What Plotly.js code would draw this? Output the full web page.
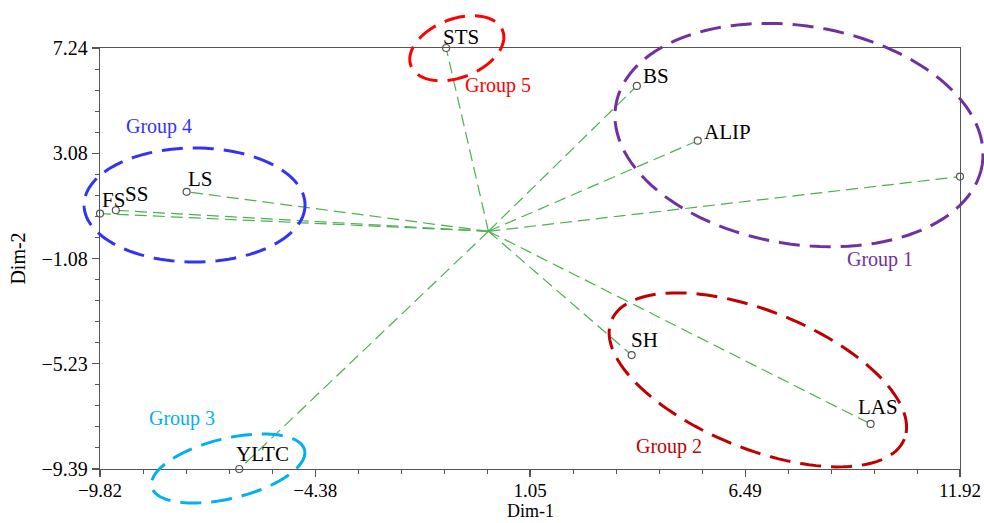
<!DOCTYPE html>
<html>
<head>
<meta charset="utf-8">
<script src="https://cdn.plot.ly/plotly-3.0.1.min.js"></script>
<style>html,body{margin:0;padding:0;background:#fff;}#chart{width:984px;height:523px;}</style>
</head>
<body>
<div id="chart"></div>
<script>
// ---- data ----
const pointLabels = ['STS', 'BS', 'ALIP', '', 'LS', 'SS', 'FS', 'YLTC', 'SH', 'LAS'];
const dim1 = [-1.07, 3.75, 5.29, 11.92, -7.63, -9.42, -9.82, -6.30, 3.62, 9.66];
const dim2 = [7.24, 5.74, 3.58, 2.16, 1.56, 0.83, 0.70, -9.39, -4.89, -7.61];

const groupNames = ['Group 1', 'Group 2', 'Group 3', 'Group 4', 'Group 5'];
const groupCenterX = [7.85, 6.81, -6.58, -7.43, -0.80];
const groupCenterY = [3.80, -5.87, -9.37, 1.04, 7.23];
const groupLabelX = [9.90, 4.56, -7.75, -8.33, 0.23];
const groupLabelY = [-1.13, -8.52, -7.41, 4.12, 5.74];

const xTickVals = [-9.82, -4.38, 1.05, 6.49, 11.92];
const xTickText = ['\u22129.82', '\u22124.38', '1.05', '6.49', '11.92'];
const yTickVals = [7.24, 3.08, -1.08, -5.23, -9.39];
const yTickText = ['7.24', '3.08', '\u22121.08', '\u22125.23', '\u22129.39'];

// ---- styles / geometry (pixels) ----
const groupColors = ['#7030a0', '#c00000', '#00b0f0', '#3333f5', '#ff0000'];
const ellipseA = [185.6, 158, 78.6, 110.5, 49.1];   // semi-major, px
const ellipseB = [109.1, 68.8, 30, 57, 29.3];       // semi-minor, px
const ellipseRot = [9.2, 22, -13.6, 0, -21];        // degrees, screen (clockwise +)
const labelShift = [[-4, 11], [5, 10], [5, 9], [0, 0], [0, 13], [8, 16], [1, 14], [-4, 15], [-2, 15], [-14, 17]];

const W = 984, H = 523;
const M = {l: 100, r: 24, t: 48, b: 54};
const plotW = W - M.l - M.r, plotH = H - M.t - M.b;
const xr = [-9.82, 11.92], yr = [-9.39, 7.24];
const FONT = '"Liberation Serif", "Times New Roman", Times, serif';

const px = x => (x - xr[0]) / (xr[1] - xr[0]);
const py = y => (y - yr[0]) / (yr[1] - yr[0]);

// spokes from origin
const lx = [], ly = [];
for (let i = 0; i < dim1.length; i++) { lx.push(0, dim1[i], null); ly.push(0, dim2[i], null); }

const traces = [
  {x: lx, y: ly, mode: 'lines', type: 'scatter', cliponaxis: false, hoverinfo: 'skip',
   line: {color: '#4caf50', width: 1.2, dash: '12px,6px'}, showlegend: false},
  {x: dim1, y: dim2, mode: 'markers', type: 'scatter', cliponaxis: false, text: pointLabels,
   marker: {size: 7, color: '#ffffff', line: {color: '#555555', width: 1.2}}, showlegend: false}
];

const shapes = groupNames.map((g, k) => {
  const cx = px(groupCenterX[k]), cy = py(groupCenterY[k]);
  const th = ellipseRot[k] * Math.PI / 180;
  let d = '';
  const N = 120;
  for (let j = 0; j <= N; j++) {
    const t = 2 * Math.PI * j / N;
    const ex = ellipseA[k] * Math.cos(t), ey = ellipseB[k] * Math.sin(t);
    const rx = ex * Math.cos(th) - ey * Math.sin(th);
    const ry = ex * Math.sin(th) + ey * Math.cos(th); // screen y down
    const X = cx + rx / plotW, Y = cy - ry / plotH;
    d += (j === 0 ? 'M' : 'L') + X.toFixed(5) + ',' + Y.toFixed(5);
  }
  d += 'Z';
  return {type: 'path', xref: 'paper', yref: 'paper', path: d, layer: 'above',
          line: {color: groupColors[k], width: 3, dash: '21px,10px'}};
});

const annotations = [];
pointLabels.forEach((t, i) => {
  if (!t) return;
  annotations.push({x: dim1[i], y: dim2[i], xref: 'x', yref: 'y', text: t, showarrow: false,
    xanchor: 'left', yanchor: 'middle', xshift: labelShift[i][0], yshift: labelShift[i][1],
    font: {family: FONT, size: 21, color: '#000'}, borderpad: 0});
});
groupNames.forEach((g, k) => {
  annotations.push({x: groupLabelX[k], y: groupLabelY[k], xref: 'x', yref: 'y', text: g, showarrow: false,
    xanchor: 'center', yanchor: 'middle', font: {family: FONT, size: 20, color: groupColors[k]}, borderpad: 0});
});
// x-axis title placed just below the tick labels
annotations.push({x: 0.5, y: 0, xref: 'paper', yref: 'paper', yshift: -42, text: 'Dim-1', showarrow: false,
  xanchor: 'center', yanchor: 'middle', font: {family: FONT, size: 18, color: '#000'}, borderpad: 0});

const axisCommon = {
  showgrid: false, zeroline: false, showline: true, linecolor: '#555', linewidth: 1.3, mirror: true,
  ticks: 'outside', ticklen: 7, tickwidth: 1.2, tickcolor: '#555', tickmode: 'array',
  tickfont: {family: FONT, size: 20, color: '#000'}
};

const layout = {
  width: W, height: H, margin: M, paper_bgcolor: '#fff', plot_bgcolor: '#fff',
  showlegend: false, hovermode: false,
  xaxis: Object.assign({}, axisCommon, {range: xr, tickvals: xTickVals, ticktext: xTickText, automargin: false,
    ticklabelstandoff: -3, tickfont: {family: FONT, size: 19, color: '#000'},
    minor: {tickmode: 'linear', tick0: -9.82, dtick: 1.0874, ticks: 'outside', ticklen: 4, tickcolor: '#555', tickwidth: 1}}),
  yaxis: Object.assign({}, axisCommon, {range: yr, tickvals: yTickVals, ticktext: yTickText,
    minor: {tickmode: 'linear', tick0: -9.39, dtick: 0.8315, ticks: 'outside', ticklen: 4, tickcolor: '#555', tickwidth: 1},
    title: {text: 'Dim-2', font: {family: FONT, size: 20, color: '#000'}, standoff: 10}}),
  shapes: shapes, annotations: annotations
};

Plotly.newPlot('chart', traces, layout, {staticPlot: true, displayModeBar: false});
</script>
</body>
</html>
